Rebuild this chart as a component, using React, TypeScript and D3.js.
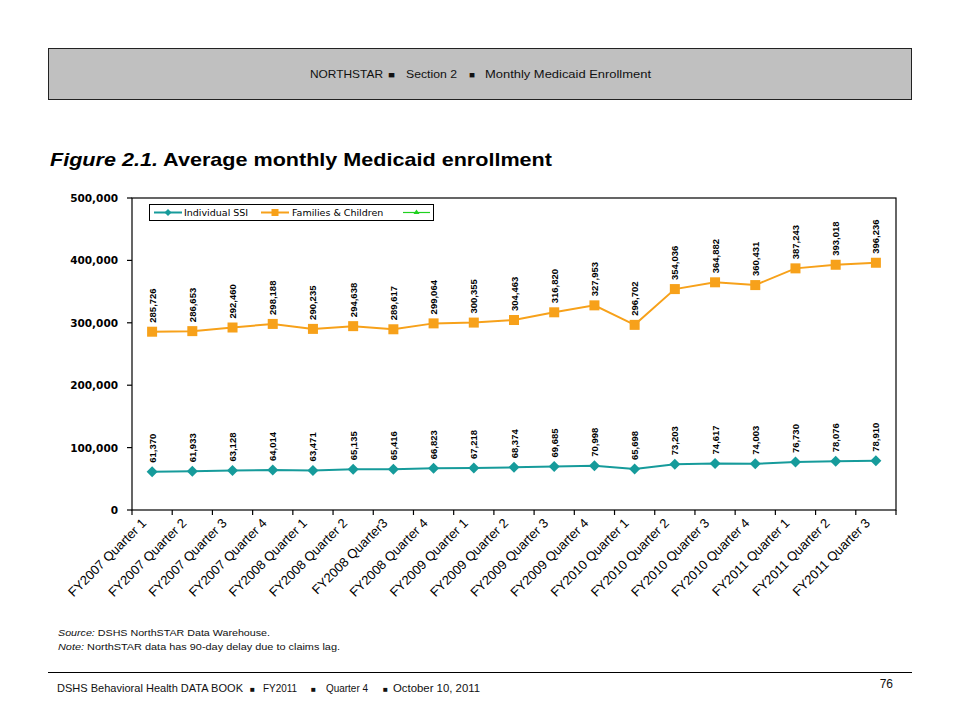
import React from "react";
import * as d3 from "d3";

const categories = [
  "FY2007 Quarter 1", "FY2007 Quarter 2", "FY2007 Quarter 3", "FY2007 Quarter 4",
  "FY2008 Quarter 1", "FY2008 Quarter 2", "FY2008 Quarter3", "FY2008 Quarter 4",
  "FY2009 Quarter 1", "FY2009 Quarter 2", "FY2009 Quarter 3", "FY2009 Quarter 4",
  "FY2010 Quarter 1", "FY2010 Quarter 2", "FY2010 Quarter 3", "FY2010 Quarter 4",
  "FY2011 Quarter 1", "FY2011 Quarter 2", "FY2011 Quarter 3",
];
const individualSSI = [
  61370, 61933, 63128, 64014, 63471, 65135, 65416, 66823, 67218, 68374,
  69685, 70998, 65698, 73203, 74617, 74003, 76730, 78076, 78910,
];
const familiesChildren = [
  285726, 286653, 292460, 298188, 290235, 294638, 289617, 299064, 300355, 304463,
  316820, 327953, 296702, 354036, 364882, 360431, 387243, 393018, 396236,
];
const yTicks = [0, 100000, 200000, 300000, 400000, 500000];

const headerParts = [
  { t: "NORTHSTAR", x: 310, w: 73 },
  { t: "■", x: 388, w: 7 },
  { t: "Section 2", x: 406, w: 51 },
  { t: "■", x: 469, w: 6 },
  { t: "Monthly Medicaid Enrollment", x: 485, w: 166 },
];
const footerParts = [
  { t: "DSHS Behavioral Health DATA BOOK", x: 57, w: 186 },
  { t: "■", x: 250, w: 5 },
  { t: "FY2011", x: 263, w: 34 },
  { t: "■", x: 311, w: 5 },
  { t: "Quarter 4", x: 326, w: 42 },
  { t: "■", x: 383, w: 5 },
  { t: "October 10, 2011", x: 393, w: 87 },
];

const TEAL = "#169b9b";
const ORANGE = "#f7a11a";
const GREEN = "#1fd11f";
const ARIAL = "'Liberation Sans', Arial, sans-serif";
const VERD = "'DejaVu Sans', Verdana, sans-serif";

export default function App() {
  const left = 132, right = 896, top = 198, bottom = 510;
  const x = d3.scaleBand<string>().domain(categories).range([left, right]).padding(0);
  const y = d3.scaleLinear().domain([0, 500000]).range([bottom, top]);
  const bw = x.bandwidth();
  const cx = (c: string) => (x(c) as number) + bw / 2;
  const fmt = d3.format(",");
  const line = d3
    .line<number>()
    .x((_, i) => cx(categories[i]))
    .y((d) => y(d));
  const diamond = (px: number, py: number, r: number) =>
    `M${px},${py - r}L${px + r},${py}L${px},${py + r}L${px - r},${py}Z`;

  return (
    <svg
      width={960}
      height={720}
      style={{ position: "absolute", left: 0, top: 0, background: "#fff" }}
    >
      {/* header */}
      <rect x={48.5} y={48.5} width={863} height={51} fill="#c0c0c0" stroke="#222" strokeWidth={1} />
      {headerParts.map((p, i) => (
        <text key={i} x={p.x} y={78} fontFamily={ARIAL} fontSize={p.t === "■" ? 9 : 11.5}
          textLength={p.w} lengthAdjust="spacingAndGlyphs" fill="#111">
          {p.t}
        </text>
      ))}

      {/* title */}
      <text x={50} y={166} fontFamily={ARIAL} fontSize={19} fontWeight="bold" fill="#000"
        textLength={502} lengthAdjust="spacingAndGlyphs">
        <tspan fontStyle="italic">Figure 2.1.</tspan>
        <tspan>{"  Average monthly Medicaid enrollment"}</tspan>
      </text>

      {/* plot area border */}
      <rect x={left} y={top} width={right - left} height={bottom - top} fill="none" stroke="#000" strokeWidth={1.2} />

      {/* y axis ticks */}
      {yTicks.map((t) => (
        <g key={t}>
          <line x1={left - 5} x2={left} y1={y(t)} y2={y(t)} stroke="#000" strokeWidth={1.2} />
          <text x={118} y={y(t) + 4} textAnchor="end" fontFamily={VERD}
            fontSize={10.5} fontWeight="bold" fill="#000">
            {fmt(t)}
          </text>
        </g>
      ))}

      {/* x axis ticks */}
      {d3.range(categories.length + 1).map((i) => (
        <line key={i} x1={left + i * bw} x2={left + i * bw} y1={bottom} y2={bottom + 5} stroke="#000" strokeWidth={1.2} />
      ))}
      {categories.map((c) => (
        <text key={c} transform={`translate(${cx(c) - 5},${bottom + 14}) rotate(-45)`} textAnchor="end"
          fontFamily={ARIAL} fontSize={13} fill="#000">
          {c}
        </text>
      ))}

      {/* lines */}
      <path d={line(familiesChildren) || ""} fill="none" stroke={ORANGE} strokeWidth={2} />
      <path d={line(individualSSI) || ""} fill="none" stroke={TEAL} strokeWidth={2} />

      {familiesChildren.map((v, i) => (
        <rect key={"fc" + i} x={cx(categories[i]) - 5} y={y(v) - 5} width={10} height={10} fill={ORANGE} />
      ))}
      {individualSSI.map((v, i) => (
        <path key={"ssi" + i} d={diamond(cx(categories[i]), y(v), 5.5)} fill={TEAL} />
      ))}

      {/* data labels */}
      {familiesChildren.map((v, i) => (
        <text key={"lfc" + i} transform={`translate(${cx(categories[i]) + 3.5},${y(v) - 9}) rotate(-90)`}
          fontFamily={ARIAL} fontSize={9.5} fontWeight="bold" fill="#000">
          {fmt(v)}
        </text>
      ))}
      {individualSSI.map((v, i) => (
        <text key={"lssi" + i} transform={`translate(${cx(categories[i]) + 3.5},${y(v) - 9}) rotate(-90)`}
          fontFamily={ARIAL} fontSize={9.5} fontWeight="bold" fill="#000">
          {fmt(v)}
        </text>
      ))}

      {/* legend */}
      <g>
        <rect x={149.5} y={204.5} width={284} height={16} fill="#fff" stroke="#000" strokeWidth={1} />
        <line x1={154} x2={182} y1={212.5} y2={212.5} stroke={TEAL} strokeWidth={2} />
        <path d={diamond(168, 212.5, 3.5)} fill={TEAL} />
        <text x={184} y={216} fontFamily={VERD} fontSize={9.5} fill="#000">
          Individual SSI
        </text>
        <line x1={261} x2={289} y1={212.5} y2={212.5} stroke={ORANGE} strokeWidth={2} />
        <rect x={271.5} y={209} width={7} height={7} fill={ORANGE} />
        <text x={292} y={216} fontFamily={VERD} fontSize={9.5} fill="#000">
          Families &amp; Children
        </text>
        <line x1={403} x2={430} y1={212.5} y2={212.5} stroke={GREEN} strokeWidth={1.2} />
        <path d="M416.5,209.5L419.5,214L413.5,214Z" fill={GREEN} />
      </g>

      {/* notes */}
      <text x={58} y={636} fontFamily={ARIAL} fontSize={9.5} fill="#111" textLength={212} lengthAdjust="spacingAndGlyphs">
        <tspan fontStyle="italic">Source:</tspan> DSHS NorthSTAR Data Warehouse.
      </text>
      <text x={58} y={650} fontFamily={ARIAL} fontSize={9.5} fill="#111" textLength={282} lengthAdjust="spacingAndGlyphs">
        <tspan fontStyle="italic">Note:</tspan> NorthSTAR data has 90-day delay due to claims lag.
      </text>

      {/* footer */}
      <line x1={48} x2={912} y1={672.5} y2={672.5} stroke="#000" strokeWidth={1} />
      {footerParts.map((p, i) => (
        <text key={i} x={p.x} y={692} fontFamily={ARIAL} fontSize={p.t === "■" ? 8 : 11}
          textLength={p.w} lengthAdjust="spacingAndGlyphs" fill="#111">
          {p.t}
        </text>
      ))}
      <text x={893} y={688} textAnchor="end" fontFamily={ARIAL} fontSize={12} fill="#111">
        76
      </text>
    </svg>
  );
}
